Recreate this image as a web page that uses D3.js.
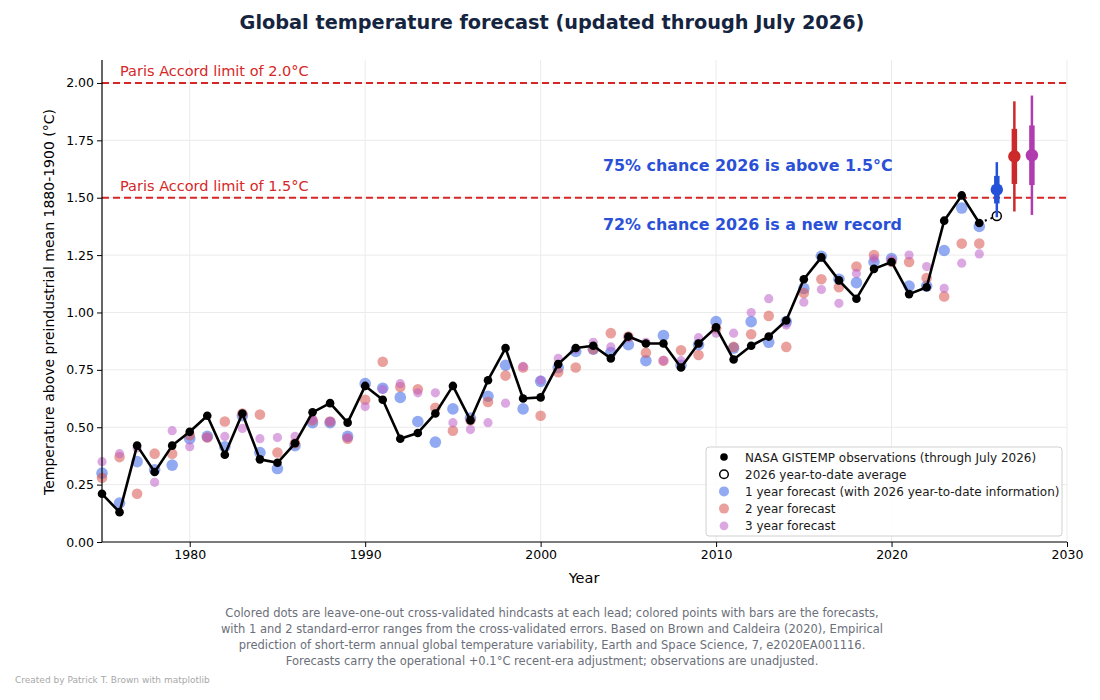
<!DOCTYPE html>
<html><head><meta charset="utf-8">
<script src="https://cdn.jsdelivr.net/npm/d3@7"></script>
<style>body{margin:0;background:#fff;font-family:"DejaVu Sans",sans-serif;}</style>
</head><body><svg id="c" width="1100" height="700"></svg>
<script>
const years = d3.range(1975, 2026);
const observed = [0.21,0.13,0.42,0.305,0.42,0.48,0.55,0.38,0.56,0.36,0.345,0.43,0.565,0.605,0.52,0.68,0.62,0.45,0.475,0.56,0.68,0.53,0.705,0.845,0.625,0.63,0.775,0.845,0.855,0.80,0.895,0.865,0.865,0.76,0.865,0.935,0.795,0.855,0.895,0.965,1.145,1.24,1.14,1.06,1.19,1.22,1.08,1.11,1.40,1.51,1.39];
const ytdYear = 2026, ytdValue = 1.42;
const lead1 = [0.30,0.17,0.35,0.315,0.335,0.45,0.46,0.415,0.55,0.39,0.32,0.42,0.52,0.52,0.46,0.69,0.67,0.63,0.525,0.435,0.58,0.54,0.635,0.77,0.58,0.70,0.76,0.83,0.84,0.825,0.86,0.79,0.90,0.77,0.86,0.96,0.845,0.96,0.87,0.96,1.105,1.245,1.145,1.13,1.22,1.235,1.115,1.115,1.27,1.455,1.375];
const lead2 = [0.28,0.37,0.21,0.385,0.385,0.465,0.455,0.525,0.56,0.555,0.39,0.43,0.53,0.525,0.45,0.62,0.785,0.675,0.665,0.585,0.485,0.53,0.61,0.725,0.76,0.55,0.74,0.76,0.84,0.91,0.895,0.825,0.79,0.835,0.815,0.93,0.85,0.905,0.985,0.85,1.085,1.145,1.11,1.20,1.25,1.22,1.22,1.15,1.07,1.30,1.30];
const lead3 = [0.35,0.385,0.41,0.26,0.485,0.415,0.455,0.46,0.495,0.45,0.455,0.46,0.535,0.525,0.455,0.59,0.665,0.69,0.65,0.65,0.52,0.49,0.52,0.605,0.765,0.705,0.80,0.84,0.87,0.85,0.89,0.87,0.79,0.79,0.89,0.91,0.91,1.00,1.06,0.945,1.045,1.10,1.04,1.17,1.235,1.23,1.25,1.20,1.105,1.215,1.255];
const fcYears = [2026, 2027, 2028];
const fcValues = [1.535, 1.68, 1.685];
const fcSE = [0.06, 0.12, 0.13];
const xTicks = [1980,1990,2000,2010,2020,2030];
const yTicks = [0,0.25,0.5,0.75,1.0,1.25,1.5,1.75,2.0];
const parisLimits = [2.0, 1.5];
const legendLabels = ["NASA GISTEMP observations (through July 2026)","2026 year-to-date average","1 year forecast (with 2026 year-to-date information)","2 year forecast","3 year forecast"];
const footerLines = ["Colored dots are leave-one-out cross-validated hindcasts at each lead; colored points with bars are the forecasts,","with 1 and 2 standard-error ranges from the cross-validated errors. Based on Brown and Caldeira (2020), Empirical","prediction of short-term annual global temperature variability, Earth and Space Science, 7, e2020EA001116.","Forecasts carry the operational +0.1°C recent-era adjustment; observations are unadjusted."];

const svg = d3.select("#c");
const L=102,R=1067,T=60,B=542;
const x = d3.scaleLinear().domain([1975,2030]).range([L,R]);
const y = d3.scaleLinear().domain([0,2.1]).range([B,T]);

// grid
const g = svg.append("g");
g.selectAll(".gx").data(xTicks).join("line").attr("x1",d=>x(d)).attr("x2",d=>x(d)).attr("y1",T).attr("y2",B).attr("stroke","#ebebeb").attr("stroke-width",1);
g.selectAll(".gy").data(yTicks).join("line").attr("x1",L).attr("x2",R).attr("y1",d=>y(d)).attr("y2",d=>y(d)).attr("stroke","#ebebeb").attr("stroke-width",1);

// paris lines
const red="#d62728";
svg.selectAll(".pl").data(parisLimits).join("line").attr("x1",L).attr("x2",R).attr("y1",d=>y(d)).attr("y2",d=>y(d)).attr("stroke",red).attr("stroke-width",2).attr("stroke-dasharray","7,4");
svg.selectAll(".plt").data(parisLimits).join("text").attr("x",120).attr("y",d=>y(d)-7).attr("fill",red).attr("font-size",14.5).text(d=>`Paris Accord limit of ${d.toFixed(1)}°C`);

// hindcast dots
function dots(data, color, r, op){
  svg.append("g").selectAll("circle").data(data).join("circle")
    .attr("cx",(d,i)=>x(years[i])).attr("cy",d=>y(d)).attr("r",r).attr("fill",color).attr("fill-opacity",op);
}
dots(lead1,"#4a72e8",5.8,0.6);
dots(lead2,"#d9534f",5.3,0.55);
dots(lead3,"#c060c8",4.6,0.55);

// observed line
const line = d3.line().x((d,i)=>x(years[i])).y(d=>y(d));
svg.append("path").datum(observed).attr("d",line).attr("fill","none").attr("stroke","#000").attr("stroke-width",2.6).attr("stroke-linejoin","round");
svg.append("line").attr("x1",x(2025)).attr("y1",y(observed[observed.length-1])).attr("x2",x(ytdYear)).attr("y2",y(ytdValue)).attr("stroke","#000").attr("stroke-width",2).attr("stroke-dasharray","2,4");
svg.append("g").selectAll("circle").data(observed).join("circle").attr("cx",(d,i)=>x(years[i])).attr("cy",d=>y(d)).attr("r",4.3).attr("fill","#000");
svg.append("circle").attr("cx",x(ytdYear)).attr("cy",y(ytdValue)).attr("r",4.5).attr("fill","#fff").attr("stroke","#000").attr("stroke-width",1.5);

// forecasts
const fcColors = ["#2352d8","#cc2a2a","#b03cb0"];
fcYears.forEach((yr,i)=>{
  const c=fcColors[i], v=fcValues[i], s=fcSE[i];
  svg.append("line").attr("x1",x(yr)).attr("x2",x(yr)).attr("y1",y(v-2*s)).attr("y2",y(v+2*s)).attr("stroke",c).attr("stroke-width",2.5);
  svg.append("line").attr("x1",x(yr)).attr("x2",x(yr)).attr("y1",y(v-s)).attr("y2",y(v+s)).attr("stroke",c).attr("stroke-width",5.5);
  svg.append("circle").attr("cx",x(yr)).attr("cy",y(v)).attr("r",6.2).attr("fill",c);
});

// annotations
const annBlue="#2a50d8";
svg.append("text").attr("x",603).attr("y",171).attr("fill",annBlue).attr("font-size",15.9).attr("font-weight","bold").text("75% chance 2026 is above 1.5°C");
svg.append("text").attr("x",603).attr("y",230).attr("fill",annBlue).attr("font-size",15.9).attr("font-weight","bold").text("72% chance 2026 is a new record");

// axes
const xa = svg.append("g").attr("transform",`translate(0,${B})`).call(d3.axisBottom(x).tickValues(xTicks).tickFormat(d3.format("d")).tickSizeOuter(0).tickSize(5));
const ya = svg.append("g").attr("transform",`translate(${L},0)`).call(d3.axisLeft(y).tickValues(yTicks).tickFormat(d3.format(".2f")).tickSizeOuter(0).tickSize(5));
[xa,ya].forEach(a=>{a.selectAll("text").attr("font-size",12.5).attr("font-family","DejaVu Sans").attr("fill","#000");a.select(".domain").attr("stroke","#000").attr("stroke-width",1.2);a.selectAll(".tick line").attr("stroke","#000");});
xa.select(".domain").attr("d",`M${L},0H${R}`);
ya.select(".domain").attr("d",`M0,${B}V${T}`);

svg.append("text").attr("x",584).attr("y",583).attr("text-anchor","middle").attr("font-size",14.5).text("Year");
svg.append("text").attr("transform","translate(54,302) rotate(-90)").attr("text-anchor","middle").attr("font-size",14).text("Temperature above preindustrial mean 1880-1900 (°C)");

// title
svg.append("text").attr("x",552).attr("y",29).attr("text-anchor","middle").attr("font-size",19.3).attr("font-weight","bold").attr("fill","#15243f").text("Global temperature forecast (updated through July 2026)");

// legend
const lg = svg.append("g");
lg.append("rect").attr("x",706).attr("y",447).attr("width",356).attr("height",89).attr("rx",3).attr("fill","#fff").attr("fill-opacity",0.85).attr("stroke","#d0d0d0");
const lgStyles=[{f:"#000",s:"none",r:3.8,o:1},{f:"#fff",s:"#000",r:4.3,o:1},{f:"#4a72e8",s:"none",r:5,o:0.6},{f:"#d9534f",s:"none",r:5,o:0.55},{f:"#c060c8",s:"none",r:4.4,o:0.55}];
legendLabels.forEach((t,i)=>{
  const yy=457+i*17.2;
  lg.append("circle").attr("cx",724).attr("cy",yy).attr("r",lgStyles[i].r).attr("fill",lgStyles[i].f).attr("fill-opacity",lgStyles[i].o).attr("stroke",lgStyles[i].s).attr("stroke-width",1.5);
  lg.append("text").attr("x",745).attr("y",yy+4.5).attr("font-size",12).attr("fill","#1a1a1a").text(t);
});

// footer
svg.append("g").selectAll("text").data(footerLines).join("text").attr("x",552).attr("y",(d,i)=>617+i*16).attr("text-anchor","middle").attr("font-size",11.5).attr("fill","#6b6f7a").text(d=>d);
svg.append("text").attr("x",15).attr("y",683).attr("font-size",9).attr("fill","#a8a8a8").text("Created by Patrick T. Brown with matplotlib");
</script></body></html>
